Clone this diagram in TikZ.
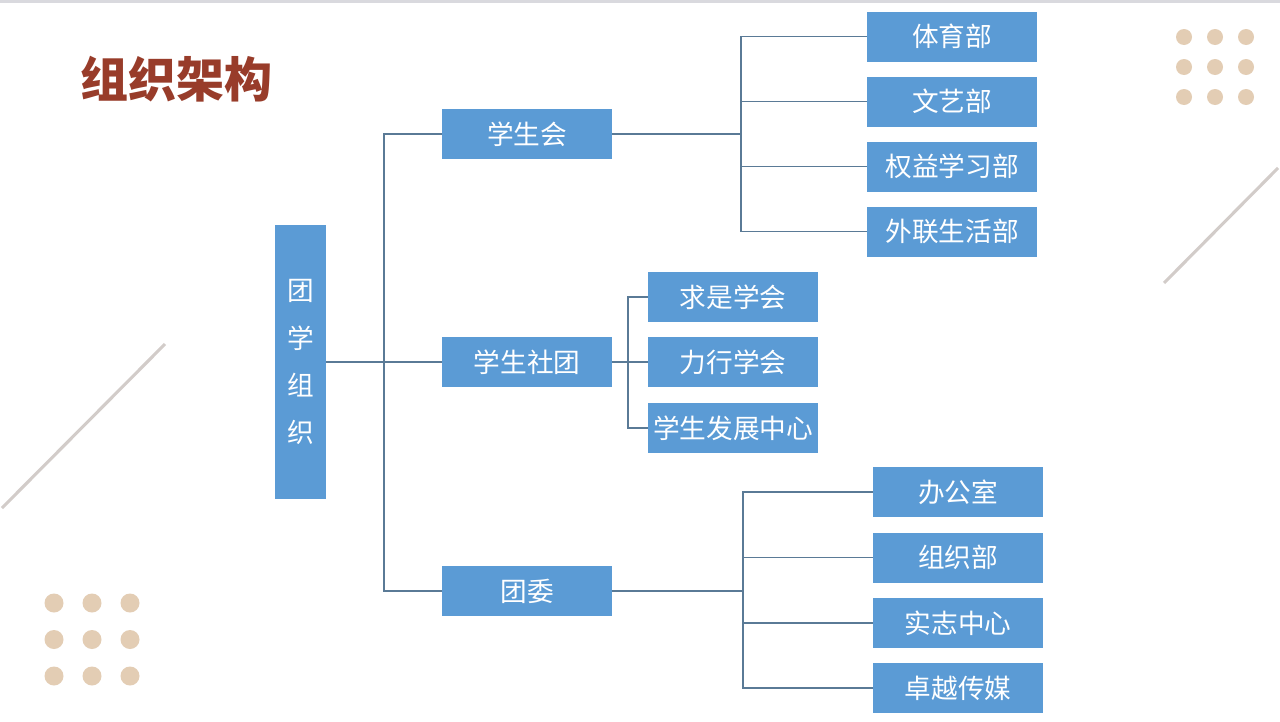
\documentclass[tikz,border=0pt]{standalone}
\usepackage{fontspec}
\newfontfamily\cjk{Noto Sans CJK SC}
\definecolor{boxblue}{HTML}{5B9BD5}
\definecolor{linkc}{HTML}{5A7A96}
\definecolor{titlered}{HTML}{983C2A}
\definecolor{dotc}{HTML}{E3CDB4}
\definecolor{decol}{HTML}{D2CCC9}
\definecolor{topc}{HTML}{D9D9DE}
\tikzset{
  orgbox/.style={fill=boxblue, text=white, inner sep=1pt, minimum width=127.5pt, minimum height=37.5pt,
    font=\cjk\fontsize{20}{24}\selectfont},
  link/.style={draw=linkc, line width=0.9pt},
  deco/.style={draw=decol, line width=2.3pt},
  dot/.style={fill=dotc},
}
\begin{document}
\begin{tikzpicture}[x=0.75pt,y=-0.75pt]
\useasboundingbox (0,0) rectangle (1280,721);
\fill[white] (0,0) rectangle (1280,721);
\fill[topc] (0,0) rectangle (1280,2.5);
% decorations
\draw[deco] (2,508) -- (165,344);
\draw[deco] (1164,283) -- (1278,168);
\foreach \i in {0,1,2} \foreach \j in {0,1,2} {
  \fill[dot] (1184+31*\i,37+30*\j) circle (8);
  \fill[dot] (54+38*\i,603+36.5*\j) circle (9.5);
}
% title
\node (title) at (176.5,79) {\cjk\fontsize{36}{40}\selectfont\bfseries\color{titlered}组织架构};
% nodes
\node[orgbox, minimum width=38.25pt, minimum height=205.5pt, align=center,
  font=\cjk\fontsize{20}{35.3}\selectfont] (root) at (300.5,362) {团\\学\\组\\织};
\node[orgbox] (xsh) at (527,134) {学生会};
\node[orgbox] (xst) at (527,362) {学生社团};
\node[orgbox] (tw) at (527,591) {团委};
\node[orgbox] (ty) at (952,36.5) {体育部};
\node[orgbox] (wy) at (952,101.5) {文艺部};
\node[orgbox] (qy) at (952,166.5) {权益学习部};
\node[orgbox] (wl) at (952,231.5) {外联生活部};
\node[orgbox] (qs) at (733,297) {求是学会};
\node[orgbox] (lx) at (733,362) {力行学会};
\node[orgbox] (fz) at (733,428) {学生发展中心};
\node[orgbox] (bg) at (958,492) {办公室};
\node[orgbox] (zz) at (958,557.5) {组织部};
\node[orgbox] (sz) at (958,623) {实志中心};
\node[orgbox] (zy) at (958,688) {卓越传媒};
% junctions
\coordinate (j0) at (384,362);
\coordinate (j1) at (741,134);
\coordinate (j2) at (628,362);
\coordinate (j3) at (743,591);
% connectors
\draw[link] (root.east) -- (j0);
\draw[link] (j0) |- (xsh.west);
\draw[link] (j0) -- (xst.west);
\draw[link] (j0) |- (tw.west);
\draw[link] (xsh.east) -- (j1);
\draw[link] (j1) |- (ty.west);
\draw[link] (j1) |- (wy.west);
\draw[link] (j1) |- (qy.west);
\draw[link] (j1) |- (wl.west);
\draw[link] (xst.east) -- (j2);
\draw[link] (j2) |- (qs.west);
\draw[link] (j2) -- (lx.west);
\draw[link] (j2) |- (fz.west);
\draw[link] (tw.east) -- (j3);
\draw[link] (j3) |- (bg.west);
\draw[link] (j3) |- (zz.west);
\draw[link] (j3) |- (sz.west);
\draw[link] (j3) |- (zy.west);
\end{tikzpicture}
\end{document}
